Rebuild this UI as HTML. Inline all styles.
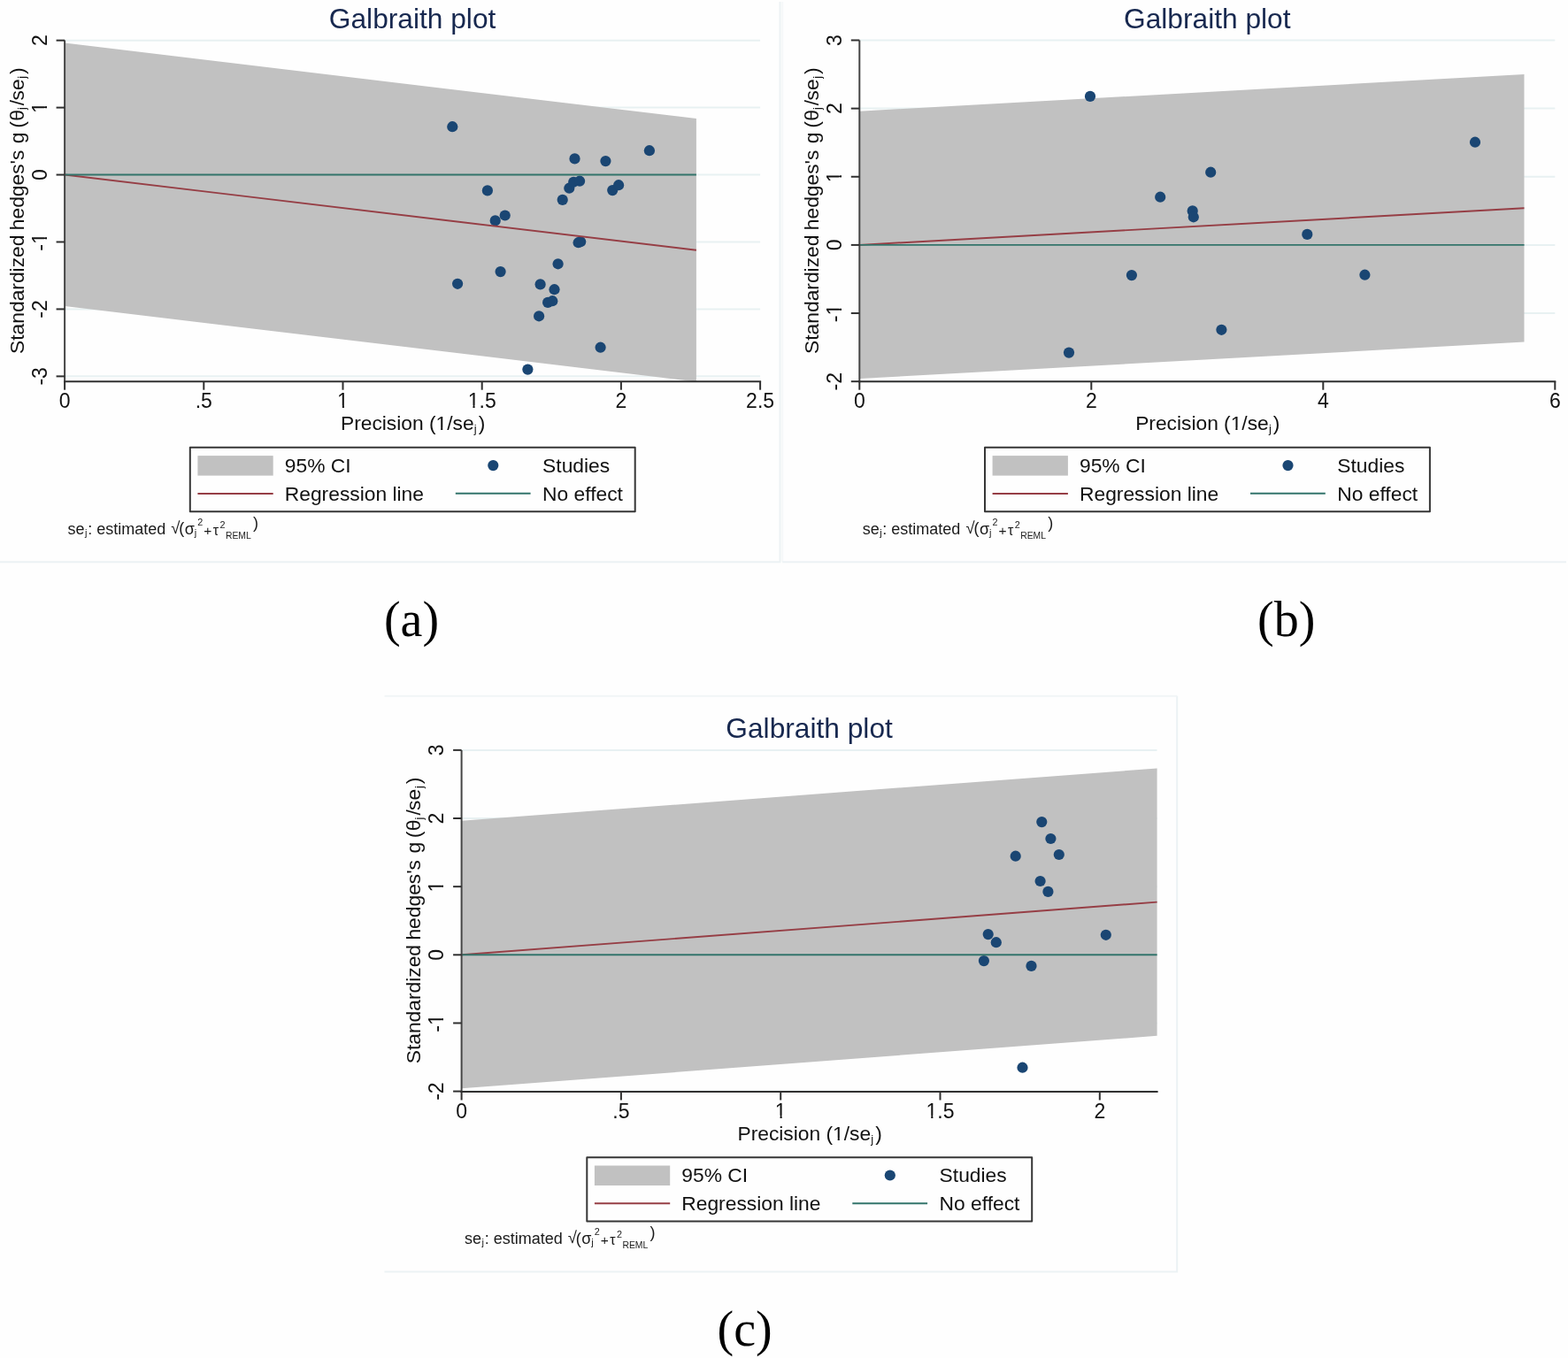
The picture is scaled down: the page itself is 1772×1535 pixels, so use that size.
<!DOCTYPE html>
<html><head><meta charset="utf-8"><title>Galbraith plots</title>
<style>html,body{margin:0;padding:0;background:#fefefe;}body{width:1772px;height:1535px;overflow:hidden;}svg{display:block;}</style>
</head><body>
<svg width="1772" height="1535" viewBox="0 0 1772 1535" font-family="'Liberation Sans', Arial, sans-serif">
<rect x="0" y="0" width="1772" height="1535" fill="#fefefe"/>
<g fill="none" stroke-width="2">
<polyline points="0,635.2 881.5,635.2 881.5,2" stroke="#ecf2f4"/>
<line x1="884.2" y1="2" x2="884.2" y2="635.2" stroke="#f6f8f9"/>
<line x1="884.2" y1="635.2" x2="1770" y2="635.2" stroke="#ecf2f4"/>
<polyline points="1330.2,786.8 1330.2,1437.5 434.5,1437.5" stroke="#ecf2f4"/>
<line x1="434.5" y1="786.8" x2="1330.2" y2="786.8" stroke="#f1f5f6"/>
</g>
<line x1="73.1" y1="45.67" x2="859.1" y2="45.67" stroke="#e8f1f2" stroke-width="2"/>
<line x1="73.1" y1="121.61" x2="859.1" y2="121.61" stroke="#e8f1f2" stroke-width="2"/>
<line x1="73.1" y1="197.55" x2="859.1" y2="197.55" stroke="#e8f1f2" stroke-width="2"/>
<line x1="73.1" y1="273.49" x2="859.1" y2="273.49" stroke="#e8f1f2" stroke-width="2"/>
<line x1="73.1" y1="349.43" x2="859.1" y2="349.43" stroke="#e8f1f2" stroke-width="2"/>
<line x1="73.1" y1="425.37" x2="859.1" y2="425.37" stroke="#e8f1f2" stroke-width="2"/>
<polygon points="73.1,48.6 786.9,134.1 786.9,431.2 784.88,431.2 73.1,346" fill="#c1c1c1"/>
<circle cx="511.3" cy="143.2" r="6.1" fill="#1a4673"/>
<circle cx="550.9" cy="215.4" r="6.1" fill="#1a4673"/>
<circle cx="570.7" cy="243.5" r="6.1" fill="#1a4673"/>
<circle cx="559.7" cy="249.4" r="6.1" fill="#1a4673"/>
<circle cx="649.5" cy="179.4" r="6.1" fill="#1a4673"/>
<circle cx="684.4" cy="182.1" r="6.1" fill="#1a4673"/>
<circle cx="733.9" cy="170.2" r="6.1" fill="#1a4673"/>
<circle cx="635.7" cy="225.9" r="6.1" fill="#1a4673"/>
<circle cx="643.3" cy="212.7" r="6.1" fill="#1a4673"/>
<circle cx="648.2" cy="205.8" r="6.1" fill="#1a4673"/>
<circle cx="655.1" cy="204.7" r="6.1" fill="#1a4673"/>
<circle cx="692.2" cy="215.1" r="6.1" fill="#1a4673"/>
<circle cx="699.1" cy="209.2" r="6.1" fill="#1a4673"/>
<circle cx="653.6" cy="274.2" r="6.1" fill="#1a4673"/>
<circle cx="656.2" cy="273.2" r="6.1" fill="#1a4673"/>
<circle cx="517.1" cy="320.8" r="6.1" fill="#1a4673"/>
<circle cx="565.6" cy="307.1" r="6.1" fill="#1a4673"/>
<circle cx="630.6" cy="298.3" r="6.1" fill="#1a4673"/>
<circle cx="610.6" cy="321.4" r="6.1" fill="#1a4673"/>
<circle cx="626.5" cy="327.2" r="6.1" fill="#1a4673"/>
<circle cx="619.1" cy="341.9" r="6.1" fill="#1a4673"/>
<circle cx="624.3" cy="340.2" r="6.1" fill="#1a4673"/>
<circle cx="609.1" cy="357.3" r="6.1" fill="#1a4673"/>
<circle cx="678.6" cy="392.7" r="6.1" fill="#1a4673"/>
<circle cx="596.4" cy="417.6" r="6.1" fill="#1a4673"/>
<line x1="73.1" y1="197.55" x2="786.9" y2="282.8" stroke="#963e45" stroke-width="1.9"/>
<line x1="73.1" y1="197.55" x2="786.9" y2="197.55" stroke="#33746b" stroke-width="1.9"/>
<line x1="73.1" y1="45.6" x2="73.1" y2="432.2" stroke="#454545" stroke-width="2"/>
<line x1="72.1" y1="431.2" x2="860.1" y2="431.2" stroke="#303030" stroke-width="2"/>
<line x1="63.6" y1="45.67" x2="73.1" y2="45.67" stroke="#303030" stroke-width="2"/>
<text x="52.7" y="45.67" transform="rotate(-90 52.7 45.67)" text-anchor="middle" font-size="23.0" fill="#111111">2</text>
<line x1="63.6" y1="121.61" x2="73.1" y2="121.61" stroke="#303030" stroke-width="2"/>
<text x="52.7" y="121.61" transform="rotate(-90 52.7 121.61)" text-anchor="middle" font-size="23.0" fill="#111111">1</text>
<g transform="rotate(-90 52.7 121.61)"><rect x="47.16" y="118.79" width="4.88" height="3.72" fill="#fefefe"/><rect x="54.17" y="118.79" width="4.7" height="3.72" fill="#fefefe"/></g>
<line x1="63.6" y1="197.55" x2="73.1" y2="197.55" stroke="#303030" stroke-width="2"/>
<text x="52.7" y="197.55" transform="rotate(-90 52.7 197.55)" text-anchor="middle" font-size="23.0" fill="#111111">0</text>
<line x1="63.6" y1="273.49" x2="73.1" y2="273.49" stroke="#303030" stroke-width="2"/>
<text x="52.7" y="273.49" transform="rotate(-90 52.7 273.49)" text-anchor="middle" font-size="23.0" fill="#111111">-1</text>
<g transform="rotate(-90 52.7 273.49)"><rect x="50.99" y="270.67" width="4.88" height="3.72" fill="#fefefe"/><rect x="58" y="270.67" width="4.7" height="3.72" fill="#fefefe"/></g>
<line x1="63.6" y1="349.43" x2="73.1" y2="349.43" stroke="#303030" stroke-width="2"/>
<text x="52.7" y="349.43" transform="rotate(-90 52.7 349.43)" text-anchor="middle" font-size="23.0" fill="#111111">-2</text>
<line x1="63.6" y1="425.37" x2="73.1" y2="425.37" stroke="#303030" stroke-width="2"/>
<text x="52.7" y="425.37" transform="rotate(-90 52.7 425.37)" text-anchor="middle" font-size="23.0" fill="#111111">-3</text>
<line x1="73.1" y1="431.2" x2="73.1" y2="440.7" stroke="#303030" stroke-width="2"/>
<text x="73.1" y="460.8" text-anchor="middle" font-size="23.0" fill="#111111">0</text>
<line x1="230.3" y1="431.2" x2="230.3" y2="440.7" stroke="#303030" stroke-width="2"/>
<text x="230.3" y="460.8" text-anchor="middle" font-size="23.0" fill="#111111">.5</text>
<line x1="387.5" y1="431.2" x2="387.5" y2="440.7" stroke="#303030" stroke-width="2"/>
<text x="387.5" y="460.8" text-anchor="middle" font-size="23.0" fill="#111111">1</text>
<rect x="381.96" y="457.98" width="4.88" height="3.72" fill="#fefefe"/><rect x="388.97" y="457.98" width="4.7" height="3.72" fill="#fefefe"/>
<line x1="544.7" y1="431.2" x2="544.7" y2="440.7" stroke="#303030" stroke-width="2"/>
<text x="544.7" y="460.8" text-anchor="middle" font-size="23.0" fill="#111111">1.5</text>
<rect x="529.57" y="457.98" width="4.88" height="3.72" fill="#fefefe"/><rect x="536.58" y="457.98" width="4.7" height="3.72" fill="#fefefe"/>
<line x1="701.9" y1="431.2" x2="701.9" y2="440.7" stroke="#303030" stroke-width="2"/>
<text x="701.9" y="460.8" text-anchor="middle" font-size="23.0" fill="#111111">2</text>
<line x1="859.1" y1="431.2" x2="859.1" y2="440.7" stroke="#303030" stroke-width="2"/>
<text x="859.1" y="460.8" text-anchor="middle" font-size="23.0" fill="#111111">2.5</text>
<text x="466.1" y="31.5" text-anchor="middle" font-size="31.7" fill="#17284f">Galbraith plot</text>
<text font-size="22.8" fill="#111111"><tspan x="384.93" y="486.4">Precision</tspan><tspan x="484.89" y="486.4">(1/se</tspan><tspan x="535.72" y="489.2" font-size="13">j</tspan><tspan x="540.67" y="486.4">)</tspan></text>
<rect x="493.32" y="483.6" width="4.85" height="3.7" fill="#fefefe"/><rect x="500.28" y="483.6" width="4.67" height="3.7" fill="#fefefe"/>
<text transform="rotate(-90)" font-size="22.8" fill="#111111"><tspan x="-399.94" y="26.8">Standardized</tspan><tspan x="-260.18" y="26.8">hedges's</tspan><tspan x="-162.16" y="26.8">g</tspan><tspan x="-144.81" y="26.8">(</tspan><tspan x="-136.78" y="26.8">θ</tspan><tspan x="-124.08" y="29.4" font-size="13">j</tspan><tspan x="-119.2" y="26.8">/</tspan><tspan x="-113.53" y="26.8">se</tspan><tspan x="-88.68" y="29.4" font-size="13">j</tspan><tspan x="-83.93" y="26.8">)</tspan></text>
<rect x="214.8" y="505.8" width="502.9" height="72.4" fill="none" stroke="#363636" stroke-width="2" stroke-linejoin="round"/>
<rect x="223.4" y="515.1" width="85.3" height="22.5" fill="#c1c1c1"/>
<line x1="223.4" y1="557.9" x2="308.7" y2="557.9" stroke="#963e45" stroke-width="2"/>
<circle cx="557.3" cy="526.1" r="6.1" fill="#1a4673"/>
<line x1="514.8" y1="557.8" x2="599.6" y2="557.8" stroke="#33746b" stroke-width="2"/>
<text x="321.8" y="534" font-size="22.8" fill="#111111">95% CI</text>
<text x="321.8" y="565.9" font-size="22.8" fill="#111111">Regression line</text>
<text x="613.1" y="533.8" font-size="22.8" fill="#111111">Studies</text>
<text x="613.1" y="565.7" font-size="22.8" fill="#111111">No effect</text>
<text x="76.6" y="603.5" font-size="18" fill="#1a1a1a">se</text>
<text x="95.97" y="605.6" font-size="11" fill="#1a1a1a">j</text>
<text x="99.16" y="603.5" font-size="18" fill="#1a1a1a">:</text>
<text x="109.13" y="603.5" font-size="18" fill="#1a1a1a">estimated</text>
<text x="193.24" y="602.8" font-size="18.5" fill="#1a1a1a">√</text>
<text x="202.18" y="603.2" font-size="18" fill="#1a1a1a">(</text>
<text x="208.74" y="603.5" font-size="18" fill="#1a1a1a">σ</text>
<text x="219.77" y="605.7" font-size="11" fill="#1a1a1a">j</text>
<text x="223.26" y="593.5" font-size="10.8" fill="#1a1a1a">2</text>
<text x="230.24" y="604.7" font-size="15.5" fill="#1a1a1a">+</text>
<text x="240.77" y="605" font-size="16" fill="#1a1a1a">τ</text>
<text x="248.46" y="596.7" font-size="10.8" fill="#1a1a1a">2</text>
<text x="254.95" y="609" font-size="10.4" fill="#1a1a1a">REML</text>
<text x="286.09" y="596.5" font-size="18" fill="#1a1a1a">)</text>
<line x1="971.3" y1="45.48" x2="1757.3" y2="45.48" stroke="#e8f1f2" stroke-width="2"/>
<line x1="971.3" y1="122.62" x2="1757.3" y2="122.62" stroke="#e8f1f2" stroke-width="2"/>
<line x1="971.3" y1="199.76" x2="1757.3" y2="199.76" stroke="#e8f1f2" stroke-width="2"/>
<line x1="971.3" y1="276.9" x2="1757.3" y2="276.9" stroke="#e8f1f2" stroke-width="2"/>
<line x1="971.3" y1="354.04" x2="1757.3" y2="354.04" stroke="#e8f1f2" stroke-width="2"/>
<line x1="971.3" y1="431.18" x2="1757.3" y2="431.18" stroke="#e8f1f2" stroke-width="2"/>
<polygon points="971.3,125.7 1722.5,84.1 1722.5,386.5 971.3,428.1" fill="#c1c1c1"/>
<circle cx="1232" cy="108.9" r="6.1" fill="#1a4673"/>
<circle cx="1368.2" cy="194.7" r="6.1" fill="#1a4673"/>
<circle cx="1311.2" cy="222.7" r="6.1" fill="#1a4673"/>
<circle cx="1347.7" cy="238.4" r="6.1" fill="#1a4673"/>
<circle cx="1348.8" cy="245.3" r="6.1" fill="#1a4673"/>
<circle cx="1278.9" cy="311.1" r="6.1" fill="#1a4673"/>
<circle cx="1380.4" cy="372.8" r="6.1" fill="#1a4673"/>
<circle cx="1208" cy="398.6" r="6.1" fill="#1a4673"/>
<circle cx="1477.3" cy="264.9" r="6.1" fill="#1a4673"/>
<circle cx="1542.4" cy="310.7" r="6.1" fill="#1a4673"/>
<circle cx="1667" cy="160.7" r="6.1" fill="#1a4673"/>
<line x1="971.3" y1="276.9" x2="1722.5" y2="235.3" stroke="#963e45" stroke-width="1.9"/>
<line x1="971.3" y1="276.9" x2="1722.5" y2="276.9" stroke="#33746b" stroke-width="1.9"/>
<line x1="971.3" y1="45.6" x2="971.3" y2="432.2" stroke="#454545" stroke-width="2"/>
<line x1="970.3" y1="431.2" x2="1758.3" y2="431.2" stroke="#303030" stroke-width="2"/>
<line x1="961.8" y1="45.48" x2="971.3" y2="45.48" stroke="#303030" stroke-width="2"/>
<text x="950.9" y="45.48" transform="rotate(-90 950.9 45.48)" text-anchor="middle" font-size="23.0" fill="#111111">3</text>
<line x1="961.8" y1="122.62" x2="971.3" y2="122.62" stroke="#303030" stroke-width="2"/>
<text x="950.9" y="122.62" transform="rotate(-90 950.9 122.62)" text-anchor="middle" font-size="23.0" fill="#111111">2</text>
<line x1="961.8" y1="199.76" x2="971.3" y2="199.76" stroke="#303030" stroke-width="2"/>
<text x="950.9" y="199.76" transform="rotate(-90 950.9 199.76)" text-anchor="middle" font-size="23.0" fill="#111111">1</text>
<g transform="rotate(-90 950.9 199.76)"><rect x="945.36" y="196.94" width="4.88" height="3.72" fill="#fefefe"/><rect x="952.37" y="196.94" width="4.7" height="3.72" fill="#fefefe"/></g>
<line x1="961.8" y1="276.9" x2="971.3" y2="276.9" stroke="#303030" stroke-width="2"/>
<text x="950.9" y="276.9" transform="rotate(-90 950.9 276.9)" text-anchor="middle" font-size="23.0" fill="#111111">0</text>
<line x1="961.8" y1="354.04" x2="971.3" y2="354.04" stroke="#303030" stroke-width="2"/>
<text x="950.9" y="354.04" transform="rotate(-90 950.9 354.04)" text-anchor="middle" font-size="23.0" fill="#111111">-1</text>
<g transform="rotate(-90 950.9 354.04)"><rect x="949.19" y="351.22" width="4.88" height="3.72" fill="#fefefe"/><rect x="956.2" y="351.22" width="4.7" height="3.72" fill="#fefefe"/></g>
<line x1="961.8" y1="431.18" x2="971.3" y2="431.18" stroke="#303030" stroke-width="2"/>
<text x="950.9" y="431.18" transform="rotate(-90 950.9 431.18)" text-anchor="middle" font-size="23.0" fill="#111111">-2</text>
<line x1="971.3" y1="431.2" x2="971.3" y2="440.7" stroke="#303030" stroke-width="2"/>
<text x="971.3" y="460.8" text-anchor="middle" font-size="23.0" fill="#111111">0</text>
<line x1="1233.3" y1="431.2" x2="1233.3" y2="440.7" stroke="#303030" stroke-width="2"/>
<text x="1233.3" y="460.8" text-anchor="middle" font-size="23.0" fill="#111111">2</text>
<line x1="1495.3" y1="431.2" x2="1495.3" y2="440.7" stroke="#303030" stroke-width="2"/>
<text x="1495.3" y="460.8" text-anchor="middle" font-size="23.0" fill="#111111">4</text>
<line x1="1757.3" y1="431.2" x2="1757.3" y2="440.7" stroke="#303030" stroke-width="2"/>
<text x="1757.3" y="460.8" text-anchor="middle" font-size="23.0" fill="#111111">6</text>
<text x="1364.3" y="31.5" text-anchor="middle" font-size="31.7" fill="#17284f">Galbraith plot</text>
<text font-size="22.8" fill="#111111"><tspan x="1283.13" y="486.4">Precision</tspan><tspan x="1383.09" y="486.4">(1/se</tspan><tspan x="1433.92" y="489.2" font-size="13">j</tspan><tspan x="1438.87" y="486.4">)</tspan></text>
<rect x="1391.52" y="483.6" width="4.85" height="3.7" fill="#fefefe"/><rect x="1398.48" y="483.6" width="4.67" height="3.7" fill="#fefefe"/>
<text transform="rotate(-90)" font-size="22.8" fill="#111111"><tspan x="-399.94" y="925">Standardized</tspan><tspan x="-260.18" y="925">hedges's</tspan><tspan x="-162.16" y="925">g</tspan><tspan x="-144.81" y="925">(</tspan><tspan x="-136.78" y="925">θ</tspan><tspan x="-124.08" y="927.6" font-size="13">j</tspan><tspan x="-119.2" y="925">/</tspan><tspan x="-113.53" y="925">se</tspan><tspan x="-88.68" y="927.6" font-size="13">j</tspan><tspan x="-83.93" y="925">)</tspan></text>
<rect x="1113" y="505.8" width="502.9" height="72.4" fill="none" stroke="#363636" stroke-width="2" stroke-linejoin="round"/>
<rect x="1121.6" y="515.1" width="85.3" height="22.5" fill="#c1c1c1"/>
<line x1="1121.6" y1="557.9" x2="1206.9" y2="557.9" stroke="#963e45" stroke-width="2"/>
<circle cx="1455.5" cy="526.1" r="6.1" fill="#1a4673"/>
<line x1="1413" y1="557.8" x2="1497.8" y2="557.8" stroke="#33746b" stroke-width="2"/>
<text x="1220" y="534" font-size="22.8" fill="#111111">95% CI</text>
<text x="1220" y="565.9" font-size="22.8" fill="#111111">Regression line</text>
<text x="1511.3" y="533.8" font-size="22.8" fill="#111111">Studies</text>
<text x="1511.3" y="565.7" font-size="22.8" fill="#111111">No effect</text>
<text x="974.8" y="603.5" font-size="18" fill="#1a1a1a">se</text>
<text x="994.17" y="605.6" font-size="11" fill="#1a1a1a">j</text>
<text x="997.36" y="603.5" font-size="18" fill="#1a1a1a">:</text>
<text x="1007.33" y="603.5" font-size="18" fill="#1a1a1a">estimated</text>
<text x="1091.44" y="602.8" font-size="18.5" fill="#1a1a1a">√</text>
<text x="1100.38" y="603.2" font-size="18" fill="#1a1a1a">(</text>
<text x="1106.94" y="603.5" font-size="18" fill="#1a1a1a">σ</text>
<text x="1117.97" y="605.7" font-size="11" fill="#1a1a1a">j</text>
<text x="1121.46" y="593.5" font-size="10.8" fill="#1a1a1a">2</text>
<text x="1128.44" y="604.7" font-size="15.5" fill="#1a1a1a">+</text>
<text x="1138.97" y="605" font-size="16" fill="#1a1a1a">τ</text>
<text x="1146.66" y="596.7" font-size="10.8" fill="#1a1a1a">2</text>
<text x="1153.15" y="609" font-size="10.4" fill="#1a1a1a">REML</text>
<text x="1184.29" y="596.5" font-size="18" fill="#1a1a1a">)</text>
<line x1="521.6" y1="847.88" x2="1307.6" y2="847.88" stroke="#e8f1f2" stroke-width="2"/>
<line x1="521.6" y1="925.02" x2="1307.6" y2="925.02" stroke="#e8f1f2" stroke-width="2"/>
<line x1="521.6" y1="1002.16" x2="1307.6" y2="1002.16" stroke="#e8f1f2" stroke-width="2"/>
<line x1="521.6" y1="1079.3" x2="1307.6" y2="1079.3" stroke="#e8f1f2" stroke-width="2"/>
<line x1="521.6" y1="1156.44" x2="1307.6" y2="1156.44" stroke="#e8f1f2" stroke-width="2"/>
<line x1="521.6" y1="1233.58" x2="1307.6" y2="1233.58" stroke="#e8f1f2" stroke-width="2"/>
<polygon points="521.6,927.8 1307.6,868.5 1307.6,1170.8 521.6,1230.2" fill="#c1c1c1"/>
<circle cx="1177.3" cy="929.1" r="6.1" fill="#1a4673"/>
<circle cx="1187.4" cy="948" r="6.1" fill="#1a4673"/>
<circle cx="1147.7" cy="967.7" r="6.1" fill="#1a4673"/>
<circle cx="1196.8" cy="966" r="6.1" fill="#1a4673"/>
<circle cx="1175.6" cy="996" r="6.1" fill="#1a4673"/>
<circle cx="1184.4" cy="1007.9" r="6.1" fill="#1a4673"/>
<circle cx="1116.7" cy="1056.1" r="6.1" fill="#1a4673"/>
<circle cx="1125.8" cy="1065.2" r="6.1" fill="#1a4673"/>
<circle cx="1249.8" cy="1056.8" r="6.1" fill="#1a4673"/>
<circle cx="1111.9" cy="1086.1" r="6.1" fill="#1a4673"/>
<circle cx="1165.5" cy="1091.9" r="6.1" fill="#1a4673"/>
<circle cx="1155.5" cy="1206.7" r="6.1" fill="#1a4673"/>
<line x1="521.6" y1="1079.3" x2="1307.6" y2="1019.6" stroke="#963e45" stroke-width="1.9"/>
<line x1="521.6" y1="1079.3" x2="1307.6" y2="1079.3" stroke="#33746b" stroke-width="1.9"/>
<line x1="521.6" y1="848" x2="521.6" y2="1235" stroke="#454545" stroke-width="2"/>
<line x1="520.6" y1="1234" x2="1308.6" y2="1234" stroke="#303030" stroke-width="2"/>
<line x1="512.1" y1="847.88" x2="521.6" y2="847.88" stroke="#303030" stroke-width="2"/>
<text x="501.2" y="847.88" transform="rotate(-90 501.2 847.88)" text-anchor="middle" font-size="23.0" fill="#111111">3</text>
<line x1="512.1" y1="925.02" x2="521.6" y2="925.02" stroke="#303030" stroke-width="2"/>
<text x="501.2" y="925.02" transform="rotate(-90 501.2 925.02)" text-anchor="middle" font-size="23.0" fill="#111111">2</text>
<line x1="512.1" y1="1002.16" x2="521.6" y2="1002.16" stroke="#303030" stroke-width="2"/>
<text x="501.2" y="1002.16" transform="rotate(-90 501.2 1002.16)" text-anchor="middle" font-size="23.0" fill="#111111">1</text>
<g transform="rotate(-90 501.2 1002.16)"><rect x="495.66" y="999.34" width="4.88" height="3.72" fill="#fefefe"/><rect x="502.67" y="999.34" width="4.7" height="3.72" fill="#fefefe"/></g>
<line x1="512.1" y1="1079.3" x2="521.6" y2="1079.3" stroke="#303030" stroke-width="2"/>
<text x="501.2" y="1079.3" transform="rotate(-90 501.2 1079.3)" text-anchor="middle" font-size="23.0" fill="#111111">0</text>
<line x1="512.1" y1="1156.44" x2="521.6" y2="1156.44" stroke="#303030" stroke-width="2"/>
<text x="501.2" y="1156.44" transform="rotate(-90 501.2 1156.44)" text-anchor="middle" font-size="23.0" fill="#111111">-1</text>
<g transform="rotate(-90 501.2 1156.44)"><rect x="499.49" y="1153.62" width="4.88" height="3.72" fill="#fefefe"/><rect x="506.5" y="1153.62" width="4.7" height="3.72" fill="#fefefe"/></g>
<line x1="512.1" y1="1233.58" x2="521.6" y2="1233.58" stroke="#303030" stroke-width="2"/>
<text x="501.2" y="1233.58" transform="rotate(-90 501.2 1233.58)" text-anchor="middle" font-size="23.0" fill="#111111">-2</text>
<line x1="521.6" y1="1234" x2="521.6" y2="1243.5" stroke="#303030" stroke-width="2"/>
<text x="521.6" y="1263.6" text-anchor="middle" font-size="23.0" fill="#111111">0</text>
<line x1="701.9" y1="1234" x2="701.9" y2="1243.5" stroke="#303030" stroke-width="2"/>
<text x="701.9" y="1263.6" text-anchor="middle" font-size="23.0" fill="#111111">.5</text>
<line x1="882.2" y1="1234" x2="882.2" y2="1243.5" stroke="#303030" stroke-width="2"/>
<text x="882.2" y="1263.6" text-anchor="middle" font-size="23.0" fill="#111111">1</text>
<rect x="876.66" y="1260.78" width="4.88" height="3.72" fill="#fefefe"/><rect x="883.67" y="1260.78" width="4.7" height="3.72" fill="#fefefe"/>
<line x1="1062.5" y1="1234" x2="1062.5" y2="1243.5" stroke="#303030" stroke-width="2"/>
<text x="1062.5" y="1263.6" text-anchor="middle" font-size="23.0" fill="#111111">1.5</text>
<rect x="1047.37" y="1260.78" width="4.88" height="3.72" fill="#fefefe"/><rect x="1054.38" y="1260.78" width="4.7" height="3.72" fill="#fefefe"/>
<line x1="1242.8" y1="1234" x2="1242.8" y2="1243.5" stroke="#303030" stroke-width="2"/>
<text x="1242.8" y="1263.6" text-anchor="middle" font-size="23.0" fill="#111111">2</text>
<text x="914.6" y="833.9" text-anchor="middle" font-size="31.7" fill="#17284f">Galbraith plot</text>
<text font-size="22.8" fill="#111111"><tspan x="833.43" y="1289.2">Precision</tspan><tspan x="933.39" y="1289.2">(1/se</tspan><tspan x="984.22" y="1292" font-size="13">j</tspan><tspan x="989.17" y="1289.2">)</tspan></text>
<rect x="941.82" y="1286.4" width="4.85" height="3.7" fill="#fefefe"/><rect x="948.78" y="1286.4" width="4.67" height="3.7" fill="#fefefe"/>
<text transform="rotate(-90)" font-size="22.8" fill="#111111"><tspan x="-1202.34" y="475.3">Standardized</tspan><tspan x="-1062.58" y="475.3">hedges's</tspan><tspan x="-964.56" y="475.3">g</tspan><tspan x="-947.21" y="475.3">(</tspan><tspan x="-939.18" y="475.3">θ</tspan><tspan x="-926.48" y="477.9" font-size="13">j</tspan><tspan x="-921.6" y="475.3">/</tspan><tspan x="-915.93" y="475.3">se</tspan><tspan x="-891.08" y="477.9" font-size="13">j</tspan><tspan x="-886.33" y="475.3">)</tspan></text>
<rect x="663.3" y="1308.2" width="502.9" height="72.4" fill="none" stroke="#363636" stroke-width="2" stroke-linejoin="round"/>
<rect x="671.9" y="1317.5" width="85.3" height="22.5" fill="#c1c1c1"/>
<line x1="671.9" y1="1360.3" x2="757.2" y2="1360.3" stroke="#963e45" stroke-width="2"/>
<circle cx="1005.8" cy="1328.5" r="6.1" fill="#1a4673"/>
<line x1="963.3" y1="1360.2" x2="1048.1" y2="1360.2" stroke="#33746b" stroke-width="2"/>
<text x="770.3" y="1336.4" font-size="22.8" fill="#111111">95% CI</text>
<text x="770.3" y="1368.3" font-size="22.8" fill="#111111">Regression line</text>
<text x="1061.6" y="1336.2" font-size="22.8" fill="#111111">Studies</text>
<text x="1061.6" y="1368.1" font-size="22.8" fill="#111111">No effect</text>
<text x="525.1" y="1405.9" font-size="18" fill="#1a1a1a">se</text>
<text x="544.47" y="1408" font-size="11" fill="#1a1a1a">j</text>
<text x="547.66" y="1405.9" font-size="18" fill="#1a1a1a">:</text>
<text x="557.63" y="1405.9" font-size="18" fill="#1a1a1a">estimated</text>
<text x="641.74" y="1405.2" font-size="18.5" fill="#1a1a1a">√</text>
<text x="650.68" y="1405.6" font-size="18" fill="#1a1a1a">(</text>
<text x="657.24" y="1405.9" font-size="18" fill="#1a1a1a">σ</text>
<text x="668.27" y="1408.1" font-size="11" fill="#1a1a1a">j</text>
<text x="671.76" y="1395.9" font-size="10.8" fill="#1a1a1a">2</text>
<text x="678.74" y="1407.1" font-size="15.5" fill="#1a1a1a">+</text>
<text x="689.27" y="1407.4" font-size="16" fill="#1a1a1a">τ</text>
<text x="696.96" y="1399.1" font-size="10.8" fill="#1a1a1a">2</text>
<text x="703.45" y="1411.4" font-size="10.4" fill="#1a1a1a">REML</text>
<text x="734.59" y="1398.9" font-size="18" fill="#1a1a1a">)</text>
<text x="465" y="719" text-anchor="middle" font-family="'Liberation Serif', 'Times New Roman', serif" font-size="56.0" fill="#000">(a)</text>
<text x="1453.7" y="718.7" text-anchor="middle" font-family="'Liberation Serif', 'Times New Roman', serif" font-size="56.0" fill="#000">(b)</text>
<text x="841.6" y="1520.6" text-anchor="middle" font-family="'Liberation Serif', 'Times New Roman', serif" font-size="56.0" fill="#000">(c)</text>
</svg>
</body></html>
